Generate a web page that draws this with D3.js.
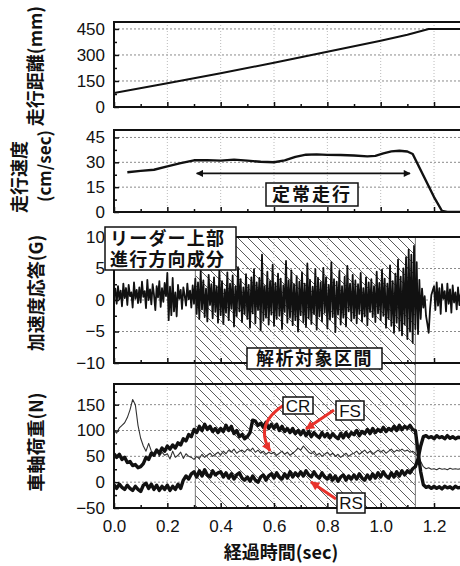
<!DOCTYPE html>
<html>
<head>
<meta charset="utf-8">
<script src="https://cdn.jsdelivr.net/npm/d3@7/dist/d3.min.js"></script>
<style>
  body { margin: 0; background: #fff; }
  svg { display: block; }
</style>
</head>
<body>
<div id="chart"></div>
<script>
// ---- data ----
const xTicks = [0, 0.2, 0.4, 0.6, 0.8, 1.0, 1.2];
const xMinor = [0.1, 0.3, 0.5, 0.7, 0.9, 1.1, 1.3];

// running distance (mm)
const distT = [0, 0.2, 0.4, 0.6, 0.8, 1.0, 1.1, 1.18, 1.3];
const distMM = [80, 137, 194, 255, 318, 382, 416, 450, 450];

// running speed (cm/sec)
const speedT = [0.05, 0.1, 0.15, 0.2, 0.25, 0.3, 0.35, 0.4, 0.45, 0.5, 0.55, 0.6, 0.64, 0.68, 0.72, 0.76,
  0.8, 0.85, 0.9, 0.95, 0.98, 1.01, 1.04, 1.07, 1.1, 1.12, 1.16, 1.2, 1.23, 1.25, 1.3];
const speedV = [24, 24.8, 25.5, 27.5, 29.5, 31.2, 31.3, 31, 31.6, 31, 30.3, 30, 31.2, 33.3, 34.6, 34.8,
  34.5, 34.4, 34.1, 33.6, 33.9, 35.4, 36.6, 37, 36.5, 35, 22, 9, 0.6, 0, 0];

// acceleration (G), one value every 0.005 s
const accelStep = 0.005;
const accelG = [
  0.5, 1.8, -0.6, 2.2, 0.1, 1.5, -1.0, 2.6, 0.3, 1.9, -0.8, 2.4, 0.6, 1.2, -1.2, 2.8, 0.2, 1.6, -0.5, 2.0,
  -0.4, 2.9, 0.5, 1.4, -1.3, 3.2, 0.0, 1.7, -0.7, 2.5, 0.8, -1.6, 2.2, 0.4, 3.0, -1.1, 1.9, -0.3, 2.7, 0.6,
  4.3, -3.2, 2.1, -2.4, 3.5, -1.8, 1.2, -2.6, 2.4, 0.2, 1.6, -1.4, 2.0, 0.7, -0.9, 2.6, 0.1, 1.5, -1.2, 2.3,
  -0.6, 3.4, -2.2, 2.8, -3.0, 4.6, -1.5, 3.1, -2.7, 1.8, -3.4, 4.0, -0.8, 2.5, -2.9, 3.6, -1.9, 2.2, -3.6, 4.8,
  -2.4, 3.0, -3.8, 1.7, -2.0, 4.4, -3.2, 2.6, -1.4, 3.9, -4.2, 2.1, -2.6, 5.2, -1.8, 3.3, -3.5, 2.0, -2.2, 4.1,
  -3.0, 2.4, -4.4, 3.6, -2.1, 4.9, -3.7, 2.8, -1.6, 3.5, -4.8, 7.2, -3.3, 2.2, -2.8, 4.5, -3.9, 3.0, -2.3, 5.6,
  -4.1, 2.7, -3.0, 4.2, -2.5, 3.4, -4.6, 2.3, -1.9, 6.2, -3.6, 3.1, -2.8, 4.7, -4.0, 2.5, -3.2, 3.8, -5.0, 2.9,
  -2.4, 4.4, -3.5, 2.6, -4.3, 5.8, -2.9, 3.2, -3.8, 2.1, -2.2, 4.9, -4.7, 3.5, -2.6, 2.8, -3.4, 5.1, -2.0, 3.6,
  -4.5, 2.4, -3.1, 6.0, -2.7, 3.3, -5.1, 2.9, -2.3, 4.6, -3.9, 2.2, -2.8, 3.7, -4.2, 5.4, -1.8, 2.6, -3.3, 4.0,
  -2.9, 3.1, -3.7, 2.5, -2.2, 4.3, -3.4, 1.9, -2.6, 3.6, -4.0, 2.8, -1.9, 3.3, -2.7, 2.2, -3.5, 4.5, -2.1, 2.7,
  -3.2, 4.8, -2.5, 3.4, -4.4, 2.6, -3.0, 5.5, -4.1, 3.0, -5.2, 4.2, -3.6, 6.4, -4.8, 3.7, -5.6, 5.0, -3.9, 6.8,
  -6.2, 8.0, -5.0, 7.2, -6.8, 8.6, -4.6, 6.0, -5.4, 3.2, -3.0, 1.8, -1.2, 0.6, -2.5, -3.8, -5.2, -1.5, 0.8, 1.5,
  2.2, -1.6, 2.8, -0.9, 1.9, -2.2, 2.5, 0.2, 1.4, -1.8, 2.6, -0.6, 1.7, -2.0, 2.3, -0.4, 1.2, -1.5, 2.0, -0.8, 1.0
];

// axle loads (N), one value every 0.01 s
const loadStep = 0.01;
const loadFS = [
  55, 48, 54, 44, 48, 38, 40, 32, 34, 28,
  30, 36, 48, 44, 56, 52, 62, 56, 66, 60,
  70, 64, 72, 66, 76, 72, 84, 80, 92, 88,
  102, 96, 108, 100, 112, 102, 108, 98, 104, 96,
  104, 98, 110, 100, 108, 94, 100, 88, 92, 84,
  88, 96, 120, 118, 110, 114, 106, 116, 104, 112,
  104, 112, 100, 108, 98, 104, 96, 104, 94, 100,
  92, 100, 90, 98, 88, 96, 90, 86, 96, 88,
  94, 86, 94, 88, 84, 94, 86, 96, 88, 96,
  92, 100, 90, 98, 94, 102, 94, 104, 96, 102,
  98, 106, 98, 104, 100, 108, 100, 110, 102, 108,
  104, 110, 102, 100, 60, 20, -5, -10, -8, -12,
  -8, -12, -9, -13, -8, -11, -9, -13, -8, -11,
  -10
];
const loadCR = [
  100, 95, 105, 110, 115, 125, 140, 160, 150, 110,
  85, 70, 60, 75, 60, 55, 62, 50, 58, 52,
  55, 45, 60, 48, 52, 58, 46, 55, 50, 48,
  44, 50, 46, 54, 48, 52, 56, 50, 54, 58,
  52, 60, 55, 62, 58, 64, 56, 60, 62, 58,
  64, 60, 66, 58, 62, 56, 60, 54, 58, 55,
  58, 52, 56, 60, 54, 58, 52, 56, 60, 66,
  62, 70, 64, 58, 55, 60, 52, 56, 50, 54,
  58, 52, 56, 50, 54, 48, 52, 56, 50, 54,
  56, 60, 54, 58, 62, 56, 60, 54, 58, 62,
  58, 62, 56, 60, 64, 58, 62, 60, 64, 60,
  62, 58, 60, 56, 48, 40, 30, 26, 28, 25,
  26, 24, 27, 25, 26, 24, 27, 25, 26, 25,
  26
];
const loadRS = [
  -5, -12, -4, -10, -14, -6, -12, -16, -8, -14,
  -18, -6, -2, -12, -4, -14, -6, -16, -8, -14,
  -6, -16, -8, -14, -4, -12, 4, 12, 6, 16,
  20, 10, 22, 12, 24, 14, 10, 22, 14, 18,
  20, 10, 18, 8, 16, 6, 14, 18, 8, 4,
  10, 2, 12, 4, 0, 10, 14, 4, 12, 16,
  8, 18, 10, 6, 16, 8, 20, 10, 18, 12,
  20, 12, 22, 14, 10, 20, 12, 8, 18, 10,
  6, 14, 4, 12, 2, 10, 14, 4, 12, 6,
  14, 6, 16, 8, 4, 14, 6, 16, 8, 18,
  10, 20, 12, 8, 18, 10, 20, 12, 22, 14,
  22, 18, 26, 30, 45, 70, 88, 90, 86, 88,
  84, 90, 86, 88, 84, 90, 85, 88, 84, 87,
  86
];

const spanStart = 0.305, spanEnd = 1.13;   // 解析対象区間

// ---- layout ----
const W = 460, H = 566;
const latin = "'Liberation Sans', Arial, sans-serif";
const jp = "'Noto Sans CJK JP', sans-serif";

const svg = d3.select("#chart").append("svg").attr("width", W).attr("height", H);
const x = d3.scaleLinear().domain([0, 1.3]).range([114, 460.7]);

const panels = [
  { key: "dist", domain: [0, 490], range: [107, 22], major: [0, 150, 300, 450], minor: [75, 225, 375], grid: [150, 300, 450] },
  { key: "speed", domain: [0, 49.5], range: [212, 130], major: [0, 15, 30, 45], minor: [7.5, 22.5, 37.5], grid: [15, 30, 45] },
  { key: "accel", domain: [-10, 10], range: [363, 237], major: [-10, -5, 0, 5, 10], minor: [-7.5, -2.5, 2.5, 7.5], grid: [-5, 0, 5] },
  { key: "load", domain: [-50, 190], range: [508, 384], major: [-50, 0, 50, 100, 150], minor: [-25, 25, 75, 125, 175], grid: [0, 50, 100, 150] },
];
panels.forEach((p) => (p.y = d3.scaleLinear().domain(p.domain).range(p.range)));
const P = Object.fromEntries(panels.map((p) => [p.key, p]));

const defs = svg.append("defs");
defs.append("pattern")
  .attr("id", "hatch").attr("patternUnits", "userSpaceOnUse")
  .attr("width", 10).attr("height", 10)
  .append("path")
  .attr("d", "M-2,-2L12,12M-2,8L2,12M8,-2L12,2")
  .attr("stroke", "#5a5a5a").attr("stroke-width", 1);
panels.forEach((p) => {
  defs.append("clipPath").attr("id", "clip-" + p.key)
    .append("rect")
    .attr("x", x.range()[0]).attr("y", p.range[1])
    .attr("width", x.range()[1] - x.range()[0]).attr("height", p.range[0] - p.range[1]);
});
const head = (id, color, w, h) =>
  defs.append("marker").attr("id", id).attr("viewBox", "0 0 10 10")
    .attr("refX", 9).attr("refY", 5).attr("markerUnits", "userSpaceOnUse")
    .attr("markerWidth", w).attr("markerHeight", h).attr("orient", "auto-start-reverse")
    .append("path").attr("d", "M0,0L10,5L0,10z").attr("fill", color);
head("blackHead", "#111", 11, 7);
head("redHead", "#e8322b", 13, 9);

// hatched analysis span (runs through panels 3 and 4)
const hatch = svg.append("g");
hatch.append("rect")
  .attr("x", x(spanStart)).attr("y", P.accel.range[1])
  .attr("width", x(spanEnd) - x(spanStart)).attr("height", P.load.range[0] - P.accel.range[1])
  .attr("fill", "url(#hatch)");
[spanStart, spanEnd].forEach((t) =>
  hatch.append("line").attr("x1", x(t)).attr("x2", x(t))
    .attr("y1", P.accel.range[1]).attr("y2", P.load.range[0])
    .attr("stroke", "#777").attr("stroke-width", 1));

// grids, ticks, frames
panels.forEach((p, i) => {
  const g = svg.append("g");
  // dotted grid
  g.append("g").selectAll("line").data(p.grid).join("line")
    .attr("x1", x.range()[0]).attr("x2", x.range()[1])
    .attr("y1", (d) => p.y(d)).attr("y2", (d) => p.y(d))
    .attr("stroke", "#8a8a8a").attr("stroke-width", 1).attr("stroke-dasharray", "2,2");
  g.append("g").selectAll("line").data(xTicks.slice(1)).join("line")
    .attr("x1", (d) => x(d)).attr("x2", (d) => x(d))
    .attr("y1", p.range[0]).attr("y2", p.range[1])
    .attr("stroke", "#bbb").attr("stroke-width", 1).attr("stroke-dasharray", "1,2");

  const yAxis = g.append("g").attr("transform", `translate(${x.range()[0]},0)`)
    .call(d3.axisLeft(p.y).tickValues(p.major).tickSize(-5).tickPadding(9));
  yAxis.append("g").call(d3.axisLeft(p.y).tickValues(p.minor).tickSize(-3).tickFormat(""));
  yAxis.selectAll(".domain").remove();
  yAxis.selectAll("line").attr("stroke", "#111").attr("stroke-width", 1.5);
  yAxis.selectAll("text").attr("font-family", latin).attr("font-size", 17).attr("fill", "#111");

  const last = i === panels.length - 1;
  const xAxis = g.append("g").attr("transform", `translate(0,${p.range[0]})`)
    .call(d3.axisBottom(x).tickValues(xTicks).tickSize(-5).tickPadding(12)
      .tickFormat(last ? d3.format(".1f") : ""));
  xAxis.append("g").call(d3.axisBottom(x).tickValues(xMinor).tickSize(-3).tickFormat(""));
  xAxis.selectAll(".domain").remove();
  xAxis.selectAll("line").attr("stroke", "#111").attr("stroke-width", 1.5);
  xAxis.selectAll("text").attr("font-family", latin).attr("font-size", 17).attr("fill", "#111");
});

// data lines
const drawLine = (p, pts, width, color) =>
  svg.append("path").datum(pts)
    .attr("clip-path", `url(#clip-${p.key})`)
    .attr("fill", "none").attr("stroke", color || "#111")
    .attr("stroke-width", width).attr("stroke-linejoin", "round")
    .attr("d", d3.line().x((d) => x(d[0])).y((d) => p.y(d[1])));

drawLine(P.dist, distT.map((t, i) => [t, distMM[i]]), 2);
drawLine(P.speed, speedT.map((t, i) => [t, speedV[i]]), 2.4);
drawLine(P.accel, accelG.map((v, i) => [i * accelStep, v]), 1.8);
drawLine(P.load, loadCR.map((v, i) => [i * loadStep, v]), 1.1, "#333");
drawLine(P.load, loadRS.map((v, i) => [i * loadStep, v]), 3.4);
drawLine(P.load, loadFS.map((v, i) => [i * loadStep, v]), 3.4);

// frames (right side runs off the page)
panels.forEach((p) => {
  svg.append("rect")
    .attr("x", x.range()[0]).attr("y", p.range[1])
    .attr("width", x.range()[1] - x.range()[0] + 5).attr("height", p.range[0] - p.range[1])
    .attr("fill", "none").attr("stroke", "#111").attr("stroke-width", 2);
});

// axis titles
const vLabel = (cx, cy, txt, font, size) =>
  svg.append("text").attr("transform", `translate(${cx},${cy}) rotate(-90)`)
    .attr("text-anchor", "middle").attr("dominant-baseline", "central")
    .attr("font-family", font).attr("font-size", size).attr("font-weight", 700)
    .attr("fill", "#111").text(txt);
vLabel(34, 66, "走行距離(mm)", jp, 18);
vLabel(18, 177, "走行速度", jp, 18);
vLabel(43, 166, "(cm/sec)", jp, 17);
vLabel(35, 293, "加速度応答(G)", jp, 18);
vLabel(35, 442, "車軸荷重(N)", jp, 18);

svg.append("text").attr("x", 281).attr("y", 559).attr("text-anchor", "middle")
  .attr("font-family", jp).attr("font-size", 18).attr("font-weight", 700).attr("fill", "#111")
  .text("経過時間(sec)");

// steady running arrow + box
svg.append("line")
  .attr("x1", x(0.31)).attr("x2", x(1.11))
  .attr("y1", P.speed.y(23.3)).attr("y2", P.speed.y(23.3))
  .attr("stroke", "#111").attr("stroke-width", 1.6)
  .attr("marker-start", "url(#blackHead)").attr("marker-end", "url(#blackHead)");

const box = (x0, y0, w, h, lines, size, spacing, base) => {
  const g = svg.append("g");
  g.append("rect").attr("x", x0).attr("y", y0).attr("width", w).attr("height", h)
    .attr("fill", "#fff").attr("stroke", "#111").attr("stroke-width", 1.5);
  lines.forEach((s, i) => {
    g.append("text").attr("font-family", jp).attr("font-size", size)
      .attr("font-weight", 700).attr("fill", "#111").attr("letter-spacing", spacing || 0)
      .attr("x", lines.length > 1 ? x0 + 5 : x0 + w / 2)
      .attr("text-anchor", lines.length > 1 ? "start" : "middle")
      .attr("y", lines.length > 1 ? y0 + base[i] : y0 + h / 2 + size * 0.36)
      .text(s);
  });
  return g;
};
box(266, 183, 92, 23, ["定常走行"], 18, 2);
box(105, 227, 131, 43, ["リーダー上部", "進行方向成分"], 18, 1.2, [18, 39]);
box(247, 348, 135, 21, ["解析対象区間"], 18, 1.5);

// curve labels with red arrows
const red = "#e8322b";
svg.append("path").attr("d", "M284,405 Q254,424 270,451")
  .attr("fill", "none").attr("stroke", red).attr("stroke-width", 3)
  .attr("marker-end", "url(#redHead)");
svg.append("line").attr("x1", 334).attr("y1", 410).attr("x2", 306).attr("y2", 429)
  .attr("stroke", red).attr("stroke-width", 3).attr("marker-end", "url(#redHead)");
svg.append("line").attr("x1", 336).attr("y1", 499).attr("x2", 311).attr("y2", 482)
  .attr("stroke", red).attr("stroke-width", 3).attr("marker-end", "url(#redHead)");

const tag = (x0, y0, w, h, s) => {
  svg.append("rect").attr("x", x0).attr("y", y0).attr("width", w).attr("height", h)
    .attr("fill", "#fff").attr("stroke", "#111").attr("stroke-width", 1.5);
  svg.append("text").attr("x", x0 + w / 2).attr("y", y0 + h / 2 + 6)
    .attr("text-anchor", "middle").attr("font-family", latin).attr("font-size", 17)
    .attr("fill", "#111").text(s);
};
tag(283, 397, 30, 17, "CR");
tag(336, 401, 28, 19, "FS");
tag(337, 493, 28, 20, "RS");
</script>
</body>
</html>
